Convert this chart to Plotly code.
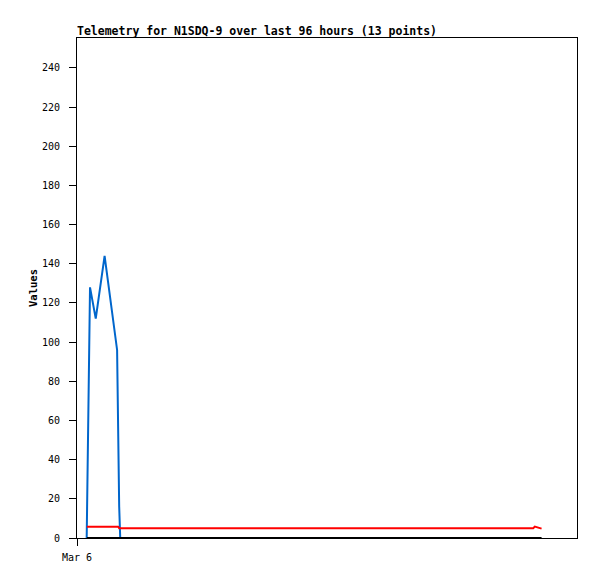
import plotly.graph_objects as go

# hours since start of window (Mar 6 00:00)
blue_t = [1.86, 1.95, 2.2, 2.35, 2.5, 3.6, 5.3, 7.7, 7.9, 8.1, 8.3]
blue_v = [0, 21, 64, 106, 128, 112, 144, 96, 48, 16, 0]

red_t = [1.9, 7.9, 8.1, 87.6, 87.9, 88.4, 89.2]
red_v = [5.8, 5.8, 5.0, 5.0, 5.8, 5.5, 4.8]

black_t = [1.9, 89.2]
black_v = [0, 0]

y_ticks = list(range(0, 241, 20))
x_tickvals = [0]
x_ticktext = ["Mar 6"]

font_mono = "DejaVu Sans Mono, Liberation Mono, monospace"

fig = go.Figure()
fig.add_trace(go.Scatter(x=blue_t, y=blue_v, mode="lines",
                         line=dict(color="#0066CC", width=2), showlegend=False))
fig.add_trace(go.Scatter(x=red_t, y=red_v, mode="lines",
                         line=dict(color="#FF0000", width=2), showlegend=False))
fig.add_trace(go.Scatter(x=black_t, y=black_v, mode="lines",
                         line=dict(color="#000000", width=2), showlegend=False))

fig.update_layout(
    width=597, height=579,
    margin=dict(l=77, r=20, t=38, b=41, autoexpand=False),
    paper_bgcolor="white", plot_bgcolor="white",
    title=dict(text="<b>Telemetry for N1SDQ-9 over last 96 hours (13 points)</b>",
               x=77/597, xanchor="left", y=1-31/579, yanchor="middle",
               font=dict(family=font_mono, size=11.5, color="black")),
    font=dict(family=font_mono, size=10, color="black"),
)
fig.update_xaxes(range=[0, 96], showgrid=False, zeroline=False, automargin=False,
                 showline=True, linecolor="black", linewidth=1, mirror=True,
                 tickmode="array", tickvals=x_tickvals, ticktext=x_ticktext,
                 ticks="outside", ticklen=7, tickcolor="black", ticklabelstandoff=3,
                 tickfont=dict(family=font_mono, size=10))
fig.update_yaxes(range=[0, 255.3], showgrid=False, zeroline=False, automargin=False,
                 showline=True, linecolor="black", linewidth=1, mirror=True,
                 tickmode="array", tickvals=y_ticks,
                 ticks="outside", ticklen=7, tickcolor="black", ticklabelstandoff=7,
                 tickfont=dict(family=font_mono, size=10),
                 title=dict(text="<b>Values</b>", standoff=2,
                            font=dict(family=font_mono, size=10.5)))

fig.write_html("out.html", config={"displayModeBar": False},
               post_script="document.body.style.margin='0';document.body.style.overflow='hidden';")
